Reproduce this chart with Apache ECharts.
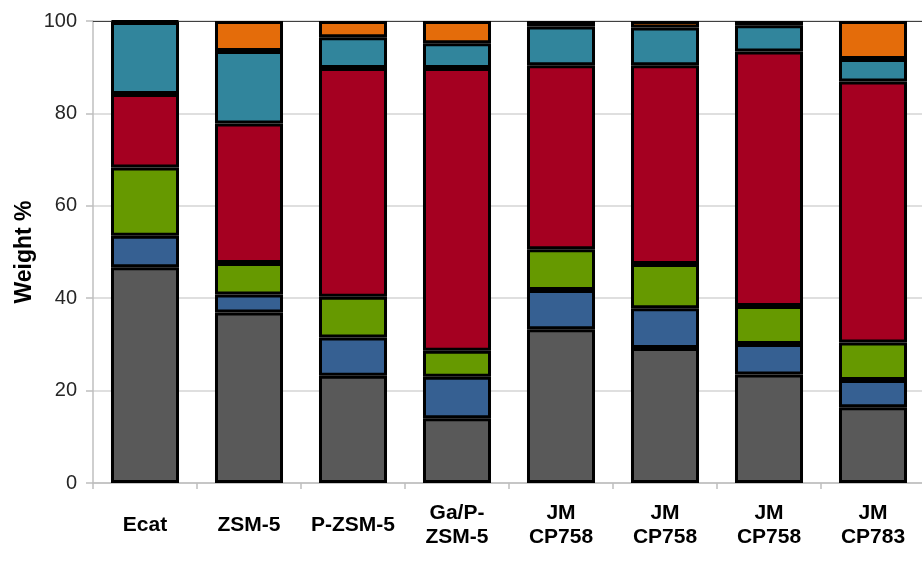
<!DOCTYPE html>
<html>
<head>
<meta charset="utf-8">
<script src="https://cdn.jsdelivr.net/npm/echarts@6/dist/echarts.min.js"></script>
<style>
html,body{margin:0;padding:0;background:#fff;}
#chart{width:922px;height:562px;}
</style>
</head>
<body>
<div id="chart"></div>
<script>
const categories = ['Ecat', 'ZSM-5', 'P-ZSM-5', 'Ga/P-\nZSM-5', 'JM\nCP758', 'JM\nCP758', 'JM\nCP758', 'JM\nCP783'];
const yTicks = [0, 20, 40, 60, 80, 100];
const seriesNames = ['Series 1', 'Series 2', 'Series 3', 'Series 4', 'Series 5', 'Series 6'];
const series1 = [46.7, 36.9, 23.2, 14.0, 33.3, 29.2, 23.5, 16.4];
const series2 = [6.8, 3.9, 8.3, 9.0, 8.5, 8.6, 6.6, 5.9];
const series3 = [14.8, 6.8, 8.8, 5.6, 8.8, 9.6, 8.2, 8.1];
const series4 = [15.9, 30.2, 49.5, 61.2, 39.8, 43.0, 55.1, 56.5];
const series5 = [15.6, 15.7, 6.7, 5.4, 8.4, 8.2, 5.7, 4.9];
const series6 = [0.2, 6.5, 3.5, 4.8, 1.2, 1.4, 0.9, 8.2];

const colors = ['#595959', '#366092', '#669900', '#A50021', '#31859C', '#E46C0A'];
const allData = [series1, series2, series3, series4, series5, series6];

const chart = echarts.init(document.getElementById('chart'), null, {renderer: 'canvas'});
const FONT = 'Liberation Sans, Arial, sans-serif';

chart.setOption({
  animation: false,
  backgroundColor: '#ffffff',
  grid: {left: 93, right: -3, top: 21, bottom: 79, containLabel: false, outerBoundsMode: 'none'},
  xAxis: [{
    type: 'category',
    data: categories,
    axisLine: {show: true, lineStyle: {color: '#bfbfbf', width: 1.5}},
    axisTick: {show: true, length: 6, lineStyle: {color: '#bfbfbf', width: 1.5}},
    axisLabel: {
      interval: 0, margin: 42, verticalAlign: 'middle',
      fontFamily: FONT, fontSize: 21, fontWeight: 'bold', color: '#000', lineHeight: 24.5
    },
    splitLine: {show: false}
  }, {
    type: 'category',
    position: 'top',
    data: categories,
    axisLine: {show: true, lineStyle: {color: '#404040', width: 1.2}},
    axisTick: {show: false},
    axisLabel: {show: false}
  }],
  yAxis: {
    type: 'value',
    min: yTicks[0], max: yTicks[yTicks.length - 1], interval: 20,
    name: 'Weight %',
    nameLocation: 'middle',
    nameGap: 57,
    nameMoveOverlap: false,
    nameRotate: 90,
    nameTextStyle: {fontFamily: FONT, fontSize: 23, fontWeight: 'bold', color: '#000'},
    axisLine: {show: true, lineStyle: {color: '#bfbfbf', width: 1.5}},
    axisTick: {show: true, length: 7, lineStyle: {color: '#bfbfbf', width: 1.5}},
    axisLabel: {fontFamily: FONT, fontSize: 20, color: '#262626', margin: 16},
    splitLine: {show: true, lineStyle: {color: '#d4d4d4', width: 1.5}}
  },
  series: allData.map((d, i) => ({
    name: seriesNames[i],
    type: 'bar',
    stack: 'total',
    data: d,
    barCategoryGap: '34.6%',
    itemStyle: {color: colors[i], borderColor: '#000', borderWidth: 3}
  }))
});
</script>
</body>
</html>
